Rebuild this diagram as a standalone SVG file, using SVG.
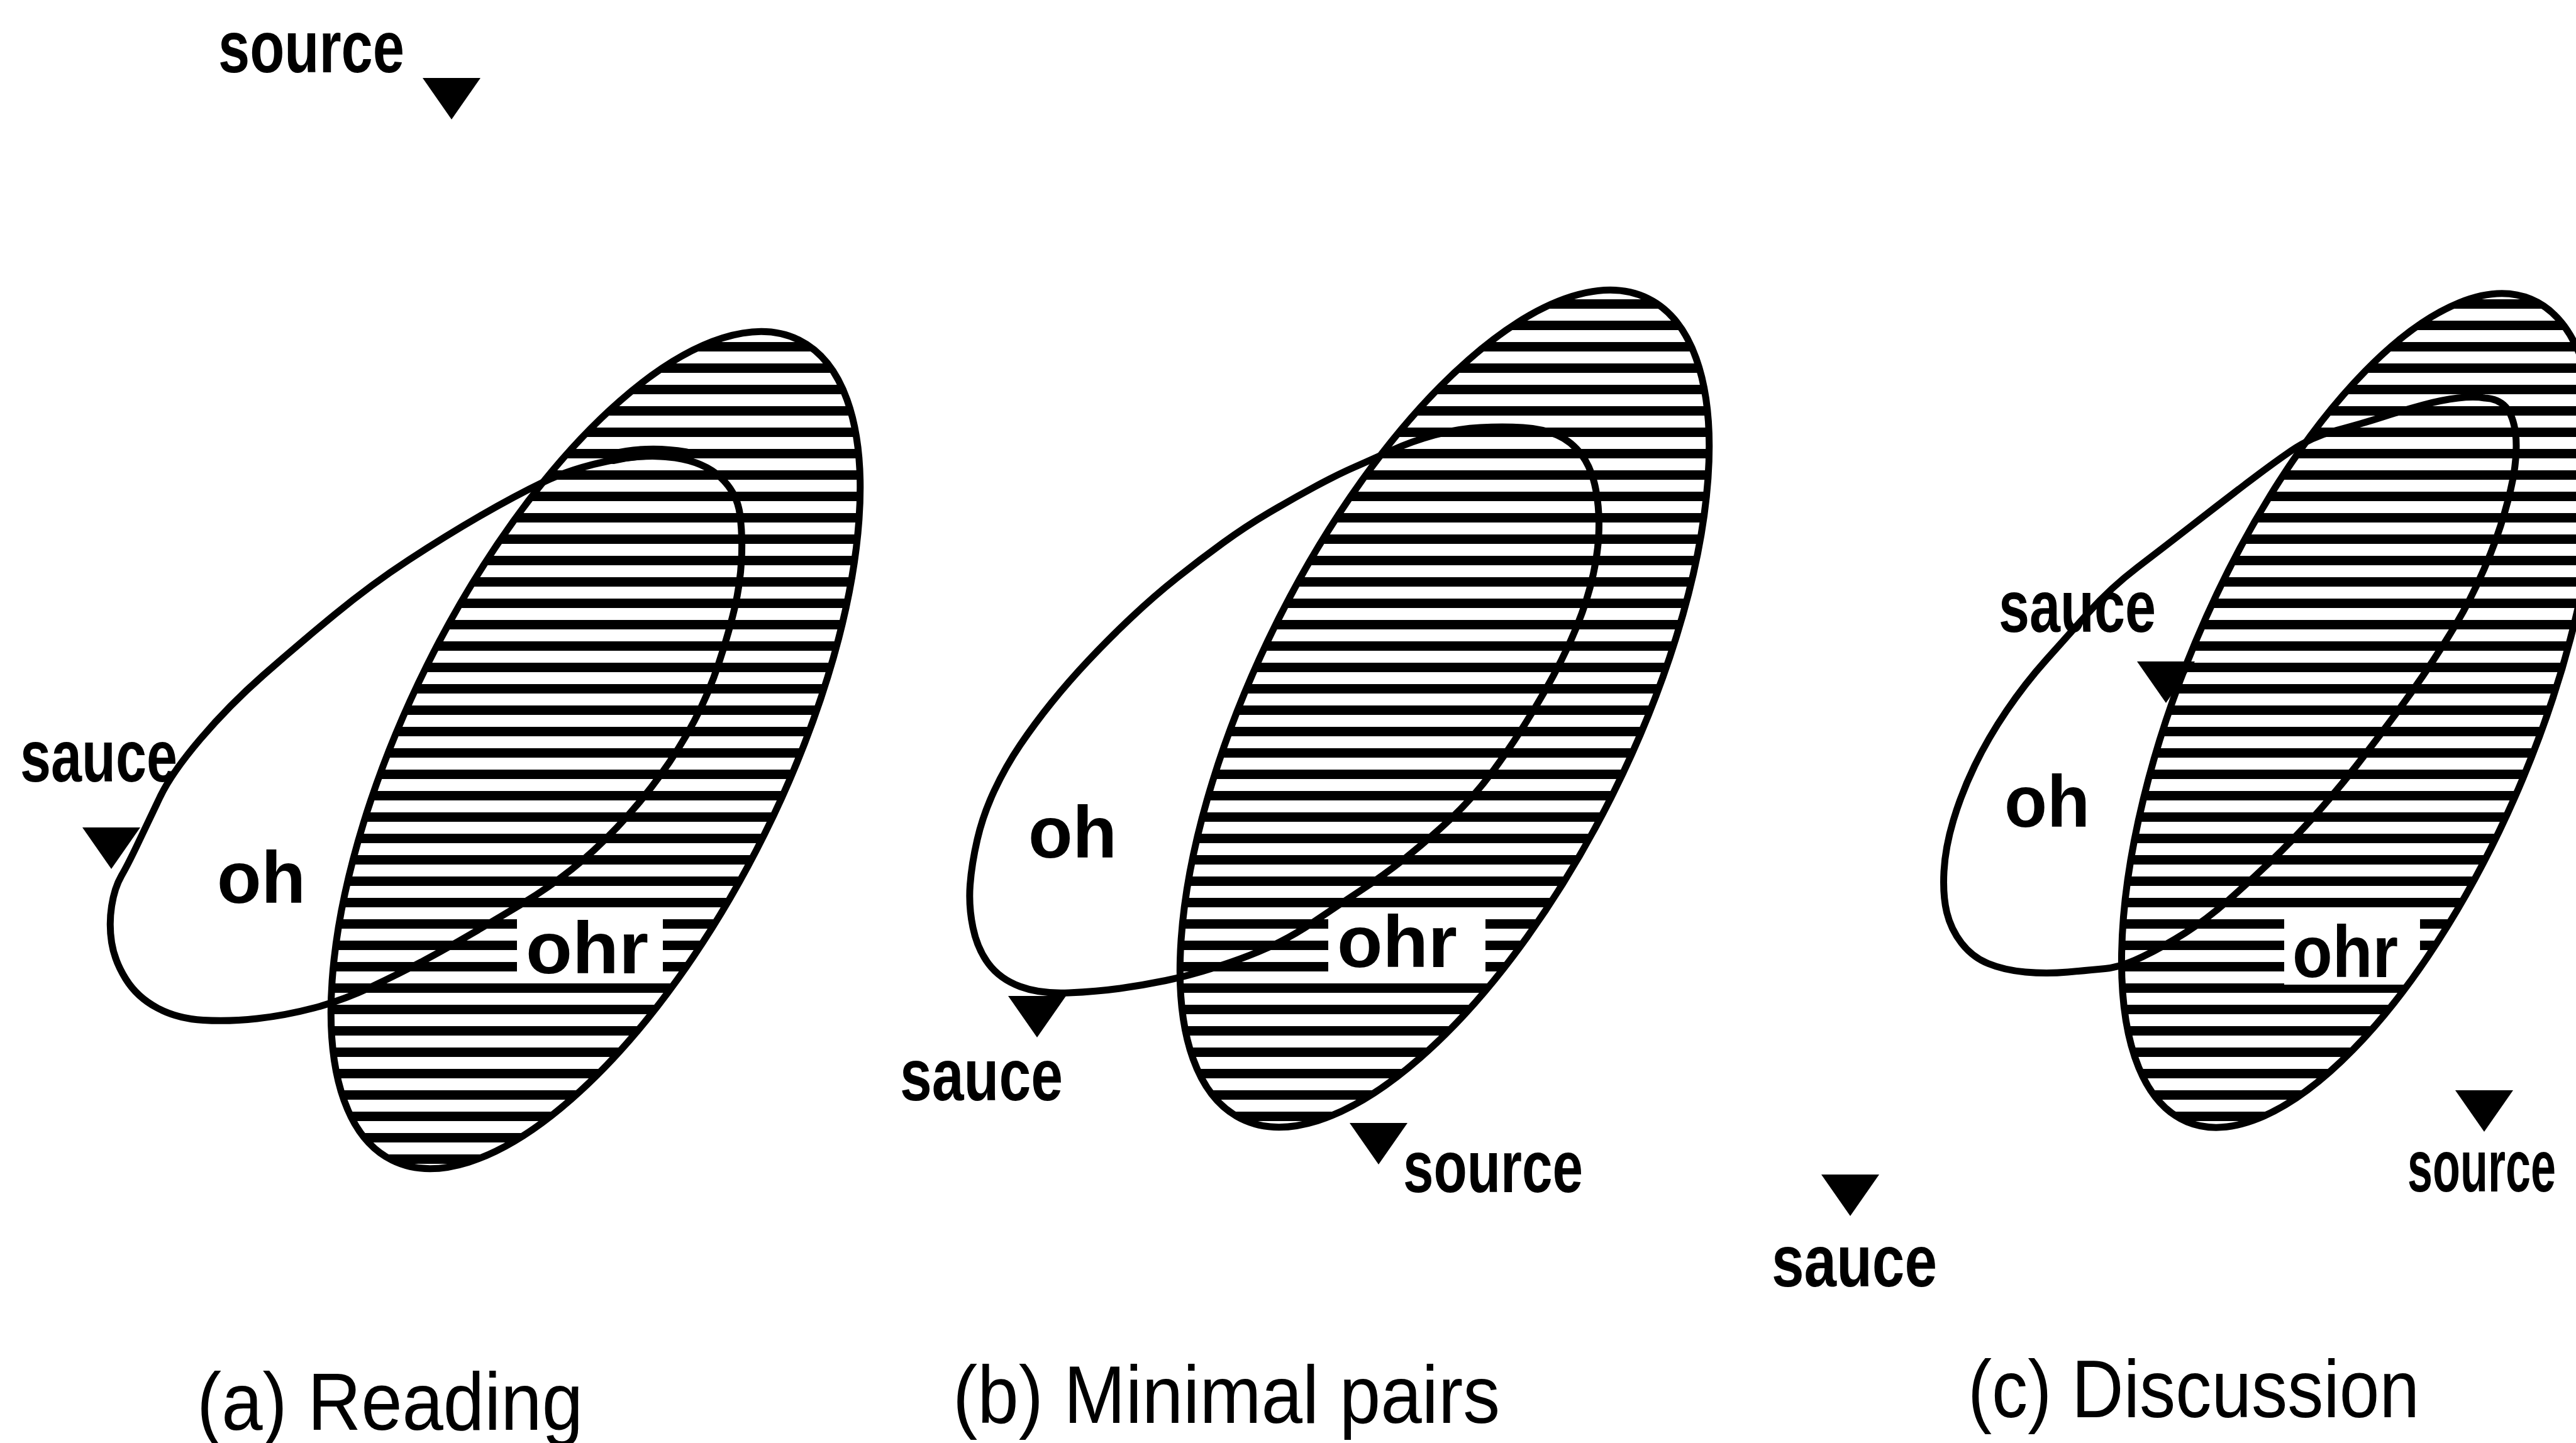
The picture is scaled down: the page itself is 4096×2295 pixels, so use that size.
<svg xmlns="http://www.w3.org/2000/svg" xmlns:xlink="http://www.w3.org/1999/xlink" width="4096" height="2295" viewBox="0 0 4096 2295">
<defs>
<pattern id="hatch" patternUnits="userSpaceOnUse" x="0" y="0" width="40" height="34">
<rect x="0" y="0" width="40" height="34" fill="#ffffff"/>
<rect x="0" y="0" width="40" height="15" fill="#000000"/>
</pattern>
<clipPath id="clipA"><ellipse cx="947" cy="1193" rx="728" ry="300" transform="rotate(-63.6 947 1193)"/></clipPath>
<clipPath id="clipB"><ellipse cx="2297" cy="1127" rx="728" ry="300" transform="rotate(-63.6 2297 1127)"/></clipPath>
<clipPath id="clipC"><ellipse cx="3751" cy="1130" rx="709" ry="282" transform="rotate(-67.3 3751 1130)"/></clipPath>
<path id="tri" d="M-46,0 L46,0 L0,66 Z"/>
<style>
.hat{fill:url(#hatch);stroke:none}
.rim{fill:none;stroke:#000;stroke-width:11}
.loop{fill:none;stroke:#000;stroke-width:11;stroke-linejoin:round}
.box{fill:#fff;stroke:none}
.lbl{font-family:"Liberation Sans",Arial,sans-serif;font-weight:bold;font-size:90px;fill:#000}
.big{font-family:"Liberation Sans",Arial,sans-serif;font-weight:bold;font-size:116px;fill:#000}
.cap{font-family:"Liberation Sans",Arial,sans-serif;font-size:118px;fill:#000}
.mk{fill:#000}
</style>
</defs>
<rect x="0" y="0" width="4096" height="2295" fill="#ffffff"/>

<g id="panel-a">
<g id="a-ohr-region">
<rect class="hat" x="150" y="450" width="1300" height="1500" clip-path="url(#clipA)"/>
<rect class="box" x="822" y="1452" width="232" height="112"/>
<ellipse class="rim" cx="947" cy="1193" rx="728" ry="300" transform="rotate(-63.6 947 1193)"/>
</g>
<g id="a-oh-region">
<path class="loop" d="M254.5,1267.5 Q273,1229 318.5,1175.5 Q364,1122 418.5,1074 Q473,1026 532,977.5 Q591,929 650,890.5 Q709,852 763.5,820.5 Q818,789 863.5,767 Q909,745 968,733 Q1027,721 1073.5,728 Q1120,735 1146,759.5 Q1172,784 1176.5,818 Q1181,852 1179,890.5 Q1177,929 1168,967.5 Q1159,1006 1143,1054.5 Q1127,1103 1104,1146.5 Q1081,1190 1049.5,1233.5 Q1018,1277 981.5,1315.5 Q945,1354 908.5,1383 Q872,1412 831.5,1436.5 Q791,1461 750,1485 Q709,1509 672.5,1528.5 Q636,1548 590.5,1569.5 Q545,1591 499.5,1603 Q454,1615 409,1620 Q364,1625 323,1622.5 Q282,1620 250,1603 Q218,1586 200,1557 Q182,1528 177.5,1499 Q173,1470 177.5,1441 Q182,1412 193,1393 Q204,1374 220,1340 Q236,1306 254.5,1267.5 Z"/>
<path d="M975,727 Q1030,714 1090,724" fill="none" stroke="#000" stroke-width="22" stroke-linecap="round"/>
</g>
<text class="big" x="345" y="1436" textLength="141" lengthAdjust="spacingAndGlyphs">oh</text>
<text class="big" x="836" y="1548" textLength="195" lengthAdjust="spacingAndGlyphs">ohr</text>
<g id="a-source-top">
<text class="lbl" transform="translate(347,115) scale(1,1.3)" textLength="296" lengthAdjust="spacingAndGlyphs">source</text>
<use xlink:href="#tri" class="mk" transform="translate(718,124)"/>
</g>
<g id="a-sauce">
<text class="lbl" transform="translate(32,1243) scale(1,1.3)" textLength="250" lengthAdjust="spacingAndGlyphs">sauce</text>
<use xlink:href="#tri" class="mk" transform="translate(177,1316)"/>
</g>
<text class="cap" transform="translate(313,2274) scale(1,1.1)" textLength="614" lengthAdjust="spacingAndGlyphs">(a) Reading</text>
</g>

<g id="panel-b">
<g id="b-ohr-region">
<rect class="hat" x="1500" y="380" width="1300" height="1500" clip-path="url(#clipB)"/>
<rect class="box" x="2112" y="1446" width="250" height="108"/>
<ellipse class="rim" cx="2297" cy="1127" rx="728" ry="300" transform="rotate(-63.6 2297 1127)"/>
</g>
<g id="b-oh-region">
<path class="loop" d="M1699.5,1579 Q1654,1581 1622,1569 Q1590,1557 1572,1533 Q1554,1509 1547,1475 Q1540,1441 1542.5,1407.5 Q1545,1374 1554,1335 Q1563,1296 1581,1257.5 Q1599,1219 1622,1185 Q1645,1151 1672,1117.5 Q1699,1084 1731,1050 Q1763,1016 1799,982 Q1835,948 1871.5,919 Q1908,890 1944.5,863.5 Q1981,837 2017.5,815.5 Q2054,794 2090,774.5 Q2126,755 2153.5,743 Q2181,731 2212.5,716.5 Q2244,702 2280.5,692 Q2317,682 2353.5,680 Q2390,678 2421.5,680 Q2453,682 2476,692 Q2499,702 2515,723.5 Q2531,745 2537.5,779 Q2544,813 2542,851.5 Q2540,890 2528.5,933.5 Q2517,977 2494.5,1025.5 Q2472,1074 2440,1127 Q2408,1180 2376,1223.5 Q2344,1267 2308,1301 Q2272,1335 2235.5,1364 Q2199,1393 2162.5,1417 Q2126,1441 2090,1465.5 Q2054,1490 2017.5,1506.5 Q1981,1523 1935.5,1537.5 Q1890,1552 1853.5,1559.5 Q1817,1567 1781,1572 Q1745,1577 1699.5,1579 Z"/>
</g>
<text class="big" x="1635" y="1364" textLength="141" lengthAdjust="spacingAndGlyphs">oh</text>
<text class="big" x="2126" y="1538" textLength="191" lengthAdjust="spacingAndGlyphs">ohr</text>
<g id="b-sauce">
<use xlink:href="#tri" class="mk" transform="translate(1649,1584)"/>
<text class="lbl" transform="translate(1431,1750) scale(1,1.3)" textLength="259" lengthAdjust="spacingAndGlyphs">sauce</text>
</g>
<g id="b-source">
<use xlink:href="#tri" class="mk" transform="translate(2192,1786)"/>
<text class="lbl" transform="translate(2231,1896) scale(1,1.3)" textLength="286" lengthAdjust="spacingAndGlyphs">source</text>
</g>
<text class="cap" transform="translate(1515,2263) scale(1,1.1)" textLength="870" lengthAdjust="spacingAndGlyphs">(b) Minimal pairs</text>
</g>

<g id="panel-c">
<g id="c-ohr-region">
<rect class="hat" x="3000" y="380" width="1096" height="1500" clip-path="url(#clipC)"/>
<rect class="box" x="3632" y="1460" width="216" height="106"/>
<ellipse class="rim" cx="3751" cy="1130" rx="709" ry="282" transform="rotate(-67.3 3751 1130)"/>
</g>
<g id="c-oh-region">
<path class="loop" d="M3715,684.5 Q3675,695 3643,717 Q3611,739 3568.5,771.5 Q3526,804 3483.5,837 Q3441,870 3398.5,902.5 Q3356,935 3322,973 Q3288,1011 3254,1049 Q3220,1087 3190.5,1130.5 Q3161,1174 3140,1217.5 Q3119,1261 3106,1304.5 Q3093,1348 3091,1386 Q3089,1424 3095.5,1451 Q3102,1478 3119,1500 Q3136,1522 3161.5,1532.5 Q3187,1543 3220.5,1546 Q3254,1549 3288,1546 Q3322,1543 3347.5,1540.5 Q3373,1538 3407,1521.5 Q3441,1505 3475,1483.5 Q3509,1462 3543,1432 Q3577,1402 3611,1369.5 Q3645,1337 3679,1299 Q3713,1261 3747,1217.5 Q3781,1174 3817,1125 Q3853,1076 3884,1027 Q3916,978 3939,929 Q3962,880 3976,836.5 Q3990,793 3997,755 Q4003,717 4000,690 Q3996,660 3984,647 Q3972,634 3951,633 Q3934,630 3908.5,633 Q3883,636 3853,644 Q3823,652 3789,663 Q3755,674 3715,684.5 Z"/>
</g>
<text class="big" x="3187" y="1315" textLength="136" lengthAdjust="spacingAndGlyphs">oh</text>
<text class="big" x="3645" y="1554" textLength="168" lengthAdjust="spacingAndGlyphs">ohr</text>
<g id="c-sauce-upper">
<text class="lbl" transform="translate(3178,1005) scale(1,1.3)" textLength="250" lengthAdjust="spacingAndGlyphs">sauce</text>
<use xlink:href="#tri" class="mk" transform="translate(3444,1052)"/>
</g>
<g id="c-source">
<use xlink:href="#tri" class="mk" transform="translate(3950,1734)"/>
<text class="lbl" style="font-size:72px" transform="translate(3828,1895) scale(1,1.62)" textLength="236" lengthAdjust="spacingAndGlyphs">source</text>
</g>
<g id="c-sauce-lower">
<use xlink:href="#tri" class="mk" transform="translate(2942,1868)"/>
<text class="lbl" transform="translate(2817,2046) scale(1,1.3)" textLength="263" lengthAdjust="spacingAndGlyphs">sauce</text>
</g>
<text class="cap" transform="translate(3129,2254) scale(1,1.1)" textLength="718" lengthAdjust="spacingAndGlyphs">(c) Discussion</text>
</g>
</svg>
